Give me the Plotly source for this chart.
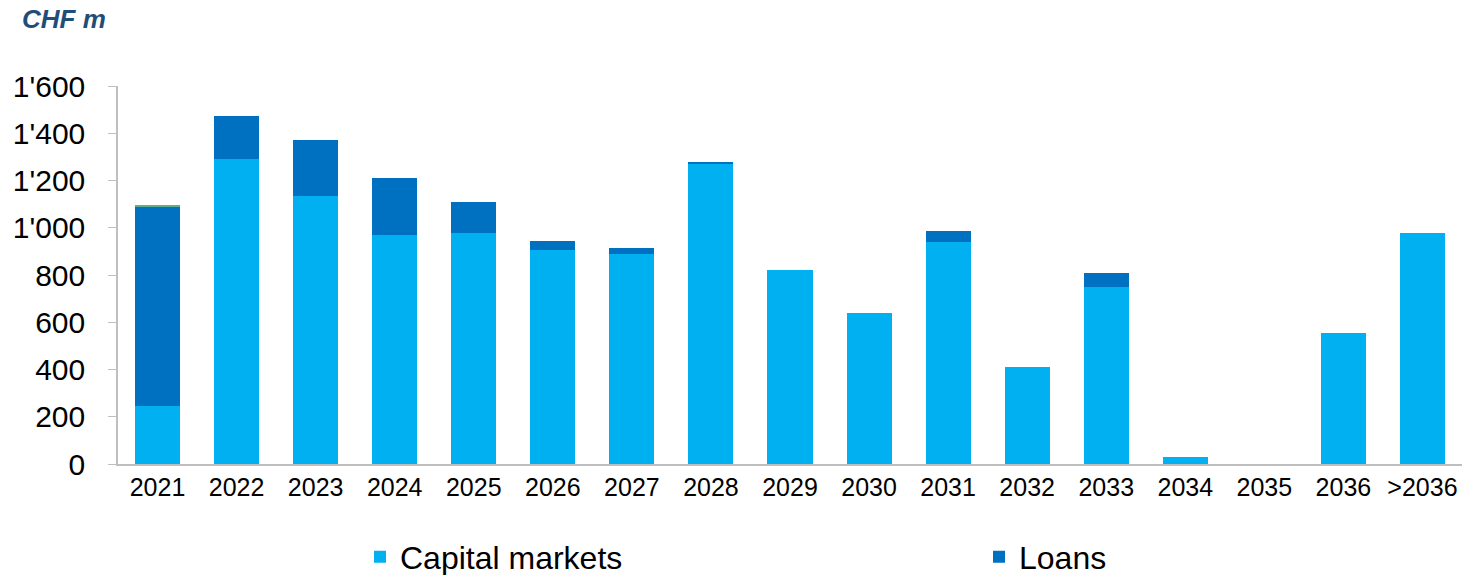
import plotly.graph_objects as go

categories = ["2021", "2022", "2023", "2024", "2025", "2026", "2027", "2028", "2029",
              "2030", "2031", "2032", "2033", "2034", "2035", "2036", ">2036"]
capital_markets = [245, 1291, 1134, 969, 978, 906, 889, 1272, 821, 639, 940, 411, 749, 30, 0, 554, 978]
loans = [843, 182, 237, 242, 131, 38, 25, 4, 0, 0, 46, 0, 59, 0, 0, 0, 0]
other = [10, 0, 0, 0, 0, 0, 0, 0, 0, 0, 0, 0, 0, 0, 0, 0, 0]

W, H = 1466, 575

fig = go.Figure()
fig.add_trace(go.Bar(x=categories, y=capital_markets, name="Capital markets",
                     marker=dict(color="#00B0F0", line=dict(width=0)), legend="legend"))
fig.add_trace(go.Bar(x=categories, y=loans, name="Loans",
                     marker=dict(color="#0070C0", line=dict(width=0)), legend="legend2"))
fig.add_trace(go.Bar(x=categories, y=other, name="Other", showlegend=False,
                     marker=dict(color="#5FAF8A", line=dict(width=0))))

legend_common = dict(orientation="h", xref="container", yref="container",
                     xanchor="left", yanchor="middle", y=(H - 557) / H,
                     font=dict(size=32), itemwidth=30, bgcolor="rgba(0,0,0,0)")

fig.update_layout(
    barmode="stack",
    bargap=0.43,
    width=W, height=H,
    margin=dict(l=118, r=4, t=86, b=111, autoexpand=False),
    plot_bgcolor="white", paper_bgcolor="white",
    separators=".'",
    font=dict(family="Liberation Sans, Arial, sans-serif", color="black"),
    showlegend=True,
    legend=dict(x=360 / W, **legend_common),
    legend2=dict(x=979 / W, **legend_common),
    title=dict(text="<b><i>CHF m</i></b>", xref="container", yref="container",
               x=22 / W, y=(H - 19) / H, xanchor="left", yanchor="middle",
               font=dict(size=26, color="#1F4E79")),
)
fig.update_yaxes(range=[0, 1600], dtick=200, tickformat=",d", showgrid=False,
                 showline=True, linecolor="#BFBFBF", linewidth=1.5,
                 ticks="outside", ticklen=8, tickcolor="#BFBFBF",
                 ticklabelstandoff=17,
                 tickfont=dict(size=30), zeroline=False)
fig.update_xaxes(showgrid=False, showline=True, linecolor="#BFBFBF", linewidth=1.5,
                 ticks="", tickfont=dict(size=25))

fig.write_html("out.html", config={"displayModeBar": False},
               post_script="document.body.style.margin='0';")
